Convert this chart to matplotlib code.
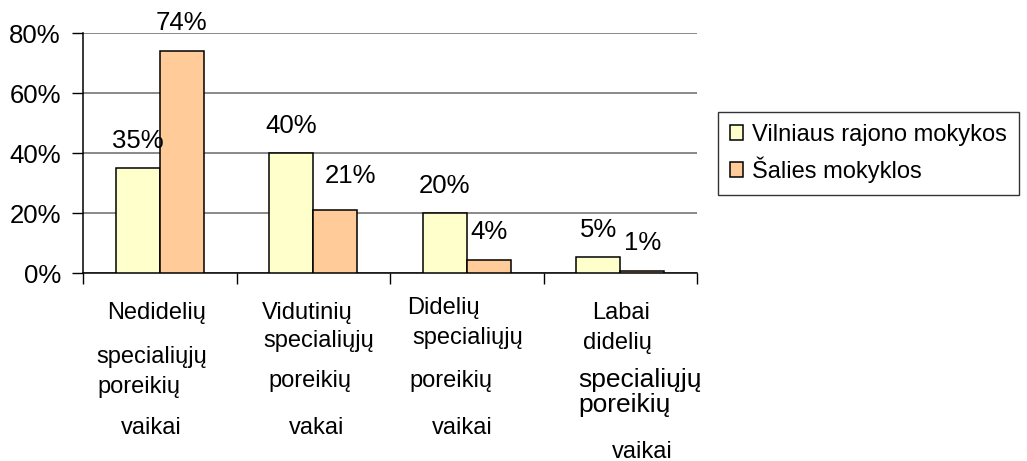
import matplotlib.pyplot as plt
import numpy as np

plt.rcParams['font.family'] = ['Liberation Sans', 'DejaVu Sans']

# data
categories = [
    ['Nedidelių', 'specialiųjų', 'poreikių', 'vaikai'],
    ['Vidutinių', 'specialiųjų', 'poreikių', 'vakai'],
    ['Didelių', 'specialiųjų', 'poreikių', 'vaikai'],
    ['Labai', 'didelių', 'specialiųjų', 'poreikių', 'vaikai'],
]
series_names = ['Vilniaus rajono mokykos', 'Šalies mokyklos']
vilnius = [0.35, 0.40, 0.20, 0.052]
salis = [0.74, 0.21, 0.044, 0.006]
yticks = [0, 0.2, 0.4, 0.6, 0.8]

colors = ['#FFFFCC', '#FFCC99']

# per line layout of the category labels: (dx px from tick centre, y px from top, size)
label_layout = [
    [(-3, 313, 17), (-8, 357, 17), (-21, 387, 17), (-8, 428, 17)],
    [(-6, 313, 17), (5, 341, 17), (-3, 381, 17), (3, 428, 17)],
    [(-23, 308, 17), (1, 338, 17), (-16, 381, 17), (-4, 428, 17)],
    [(1, 313, 17), (-3, 343, 17), (20, 380, 19), (4, 405, 19), (22, 452, 17)],
]

W, H = 1027, 461
fig = plt.figure(figsize=(W / 100, H / 100), dpi=100)
ax = fig.add_axes([83 / W, 1 - 273 / H, (697 - 83) / W, (273 - 33) / H])

x = np.arange(len(categories))
w = 0.287
b1 = ax.bar(x - w / 2, vilnius, w, color=colors[0], edgecolor='black', linewidth=1.1,
            label=series_names[0], zorder=3)
b2 = ax.bar(x + w / 2, salis, w, color=colors[1], edgecolor='black', linewidth=1.1,
            label=series_names[1], zorder=3)

# value labels
for i, v in enumerate(vilnius):
    ax.annotate('{:.0f}%'.format(v * 100), (x[i] - w / 2, v), xytext=(0, 27),
                textcoords='offset pixels', ha='center', va='center', fontsize=18.5)
for i, v in enumerate(salis):
    dx, dy = (15, 34) if i == 1 else (0, 28)
    ax.annotate('{:.0f}%'.format(v * 100), (x[i] + w / 2, v), xytext=(dx, dy),
                textcoords='offset pixels', ha='center', va='center', fontsize=18.5)

ax.set_xlim(-0.5, len(categories) - 0.5)
ax.set_ylim(0, 0.8)
ax.set_yticks(yticks)
ax.set_yticklabels(['{:.0f}%'.format(t * 100) for t in yticks], fontsize=18.5)
ax.set_xticks(np.arange(len(categories) + 1) - 0.5)
ax.set_xticklabels([])
ax.tick_params(axis='both', direction='out', length=8, width=1, color='black')
ax.tick_params(axis='y', pad=8)
ax.yaxis.grid(True, color='#6a6a6a', linewidth=1.1, zorder=0)
ax.set_axisbelow(True)
for s in ['top', 'right']:
    ax.spines[s].set_visible(False)
for s in ['left', 'bottom']:
    ax.spines[s].set_linewidth(1.1)

# category labels, line by line
for i, lines in enumerate(categories):
    for text, (dx, ypx, size) in zip(lines, label_layout[i]):
        ax.annotate(text, (x[i], H - ypx), xycoords=('data', 'figure pixels'),
                    xytext=(dx, 0), textcoords='offset pixels',
                    ha='center', va='center', fontsize=size, annotation_clip=False)

leg = fig.legend(handles=[b1, b2], loc='upper left',
                 bbox_to_anchor=(718 / W, 1 - 112 / H), fontsize=17,
                 frameon=True, fancybox=False, shadow=False, borderaxespad=0,
                 handlelength=0.55, handleheight=0.55, handletextpad=0.4,
                 labelspacing=0.45, borderpad=0.5)
leg.get_frame().set_edgecolor('black')
leg.get_frame().set_linewidth(1.0)

fig.savefig('out.png', dpi=100)
